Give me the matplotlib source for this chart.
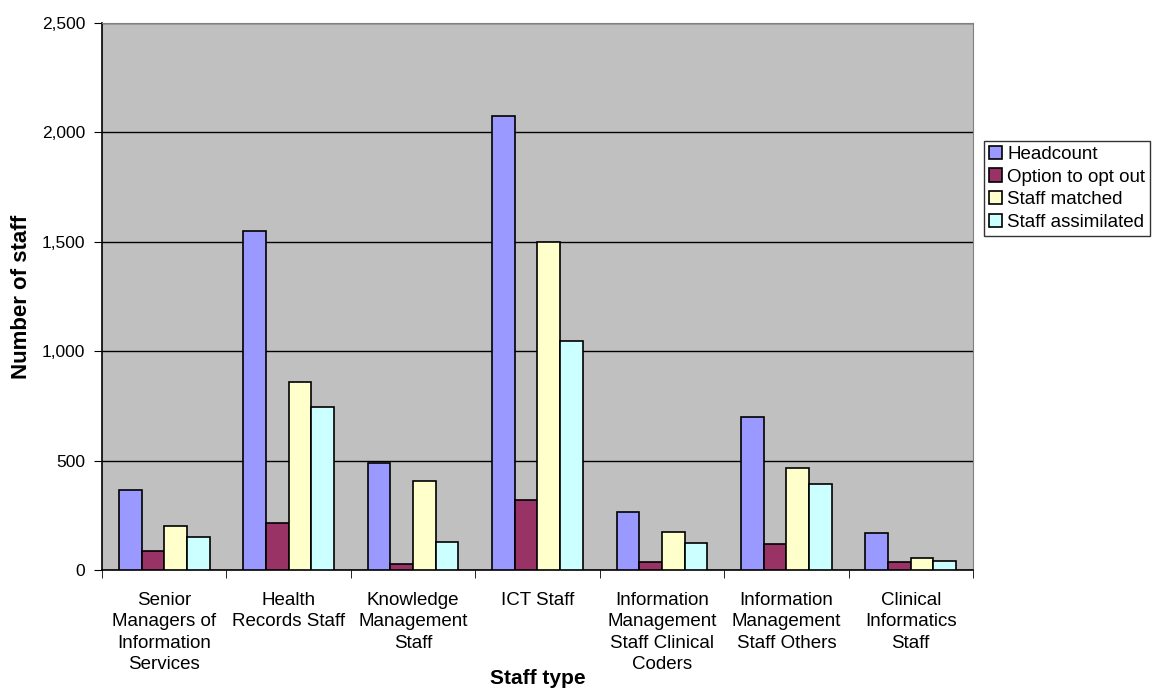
import numpy as np
import matplotlib.pyplot as plt
from matplotlib.ticker import FuncFormatter

plt.rcParams['font.family'] = ['Liberation Sans', 'DejaVu Sans']

CATEGORIES = ['Senior\nManagers of\nInformation\nServices', 'Health\nRecords Staff',
              'Knowledge\nManagement\nStaff', 'ICT Staff',
              'Information\nManagement\nStaff Clinical\nCoders',
              'Information\nManagement\nStaff Others', 'Clinical\nInformatics\nStaff']
SERIES = ['Headcount', 'Option to opt out', 'Staff matched', 'Staff assimilated']
COLORS = ['#9999FF', '#993366', '#FFFFCC', '#CCFFFF']

headcount = [367, 1551, 488, 2073, 264, 700, 171]
opt_out = [87, 216, 29, 321, 38, 119, 37]
matched = [200, 858, 405, 1500, 174, 466, 56]
assimilated = [151, 747, 129, 1047, 125, 395, 40]

values = [headcount, opt_out, matched, assimilated]

fig = plt.figure(figsize=(11.57, 6.93), dpi=100)
ax = fig.add_axes([102 / 1157, 1 - 570 / 693, 871 / 1157, 547 / 693])
ax.set_facecolor('#C0C0C0')

x = np.arange(len(CATEGORIES))
width = 0.1825
for i, (name, vals) in enumerate(zip(SERIES, values)):
    ax.bar(x + (i - 1.5) * width, vals, width, color=COLORS[i], edgecolor='black',
           linewidth=1.2, label=name, zorder=3)

ax.set_xlim(-0.5, len(CATEGORIES) - 0.5)
ax.set_ylim(0, 2500)
ax.set_yticks(np.arange(0, 2501, 500))
ax.yaxis.set_major_formatter(FuncFormatter(lambda v, p: f'{int(v):,}'))
ax.grid(axis='y', color='black', linewidth=1, zorder=1)

ax.set_xticks(x)
ax.set_xticklabels(CATEGORIES, fontsize=13.5, linespacing=1.32)
ax.set_xticks(np.arange(-0.5, len(CATEGORIES)), minor=True)
ax.tick_params(axis='x', which='major', length=0, pad=16)
ax.tick_params(axis='x', which='minor', length=6, direction='out', color='black')
ax.tick_params(axis='y', length=6, direction='out', labelsize=12.5, pad=6)

for s in ['left', 'bottom']:
    ax.spines[s].set_color('black')
    ax.spines[s].set_linewidth(1.2)
for s in ['top', 'right']:
    ax.spines[s].set_color('#808080')

ax.set_xlabel('Staff type', fontsize=15, fontweight='bold', labelpad=-3)
ax.set_ylabel('Number of staff', fontsize=16, fontweight='bold', labelpad=7)

leg = ax.legend(loc='upper left', bbox_to_anchor=(984 / 1157, 1 - 141 / 693),
                bbox_transform=fig.transFigure, fontsize=13.5, frameon=True,
                fancybox=False, edgecolor='black', handlelength=0.7, handleheight=0.7,
                handletextpad=0.3, labelspacing=0.3, borderpad=0.25, borderaxespad=0)
leg.get_frame().set_linewidth(1)

fig.savefig('out.png', dpi=100)
